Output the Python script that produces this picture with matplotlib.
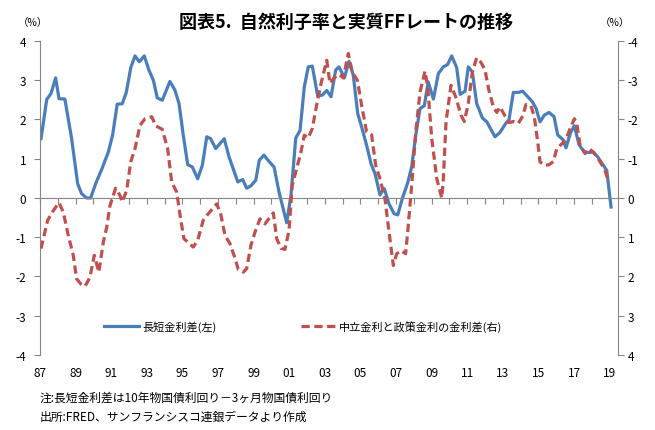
import matplotlib
matplotlib.use('Agg')
import matplotlib.pyplot as plt

plt.rcParams['font.family'] = ['Noto Sans CJK JP', 'DejaVu Sans']

# 長短金利差 (左軸)
blue_year = [1987.06, 1987.38, 1987.62, 1987.88, 1988.07, 1988.40, 1988.78, 1989.12, 1989.34, 1989.62,
             1989.85, 1990.15, 1990.47, 1990.84, 1991.08, 1991.34, 1991.62, 1991.85, 1992.10, 1992.34,
             1992.58, 1992.86, 1993.12, 1993.37, 1993.59, 1993.87, 1994.30, 1994.58, 1994.81, 1995.05,
             1995.30, 1995.56, 1995.86, 1996.12, 1996.37, 1996.59, 1996.87, 1997.35, 1997.62, 1997.92,
             1998.11, 1998.39, 1998.61, 1998.85, 1999.12, 1999.32, 1999.58, 1999.87, 2000.15, 2000.43,
             2000.86, 2001.10, 2001.37, 2001.61, 2001.85, 2002.07, 2002.30, 2002.60, 2002.86, 2003.11,
             2003.35, 2003.61, 2003.80, 2004.10, 2004.36, 2004.60, 2004.85, 2005.07, 2005.35, 2005.60,
             2005.82, 2006.10, 2006.34, 2006.61, 2006.89, 2007.10, 2007.35, 2007.66, 2007.88, 2008.11,
             2008.35, 2008.59, 2008.81, 2009.10, 2009.38, 2009.66, 2009.90, 2010.13, 2010.41, 2010.60,
             2010.88, 2011.06, 2011.29, 2011.53, 2011.85, 2012.10, 2012.56, 2012.84, 2013.12, 2013.35,
             2013.59, 2013.87, 2014.12, 2014.40, 2014.66, 2014.87, 2015.09, 2015.33, 2015.60, 2015.88,
             2016.08, 2016.37, 2016.55, 2016.81, 2017.02, 2017.28, 2017.58, 2017.84, 2018.08, 2018.33,
             2018.59, 2018.84, 2019.08]
blue_val = [1.51, 2.51, 2.66, 3.06, 2.53, 2.52, 1.51, 0.36, 0.11, 0.00,
            0.00, 0.39, 0.73, 1.17, 1.60, 2.39, 2.40, 2.69, 3.32, 3.62,
            3.47, 3.62, 3.26, 3.00, 2.55, 2.49, 2.97, 2.75, 2.41, 1.60,
            0.85, 0.79, 0.49, 0.83, 1.56, 1.51, 1.26, 1.51, 1.05, 0.66,
            0.41, 0.47, 0.25, 0.31, 0.45, 0.96, 1.09, 0.93, 0.79, 0.15,
            -0.63, 0.07, 1.53, 1.72, 2.83, 3.34, 3.36, 2.60, 2.62, 2.74,
            2.58, 3.26, 3.34, 3.06, 3.48, 3.13, 2.15, 1.81, 1.34, 0.87,
            0.62, 0.08, 0.24, -0.15, -0.40, -0.43, -0.02, 0.39, 0.79, 1.60,
            2.28, 2.35, 2.96, 2.52, 3.17, 3.34, 3.40, 3.62, 3.32, 2.64,
            2.72, 3.34, 3.21, 2.41, 2.04, 1.94, 1.56, 1.67, 1.87, 2.00,
            2.69, 2.69, 2.72, 2.58, 2.45, 2.28, 1.94, 2.11, 2.18, 2.07,
            1.61, 1.49, 1.28, 1.67, 1.84, 1.36, 1.17, 1.16, 1.17, 1.05,
            0.87, 0.70, -0.23]

# 中立金利と政策金利の金利差 (右軸, 反転)
red_year = [1987.06, 1987.43, 1987.75, 1988.07, 1988.31, 1988.59, 1988.87, 1989.06, 1989.30, 1989.53,
            1989.81, 1990.05, 1990.31, 1990.56, 1990.75, 1990.93, 1991.25, 1991.49, 1991.62, 1991.87,
            1992.10, 1992.34, 1992.62, 1992.90, 1993.28, 1993.50, 1993.87, 1994.17, 1994.40, 1994.68,
            1994.90, 1995.09, 1995.30, 1995.61, 1995.86, 1996.17, 1996.46, 1996.93, 1997.15, 1997.39,
            1997.67, 1997.96, 1998.14, 1998.42, 1998.61, 1998.85, 1999.08, 1999.36, 1999.64, 1999.92,
            2000.11, 2000.30, 2000.54, 2000.76, 2000.99, 2001.17, 2001.42, 2001.66, 2001.85, 2002.07,
            2002.30, 2002.54, 2002.79, 2003.11, 2003.29, 2003.53, 2003.80, 2004.04, 2004.32, 2004.54,
            2004.83, 2005.07, 2005.35, 2005.63, 2005.86, 2006.10, 2006.38, 2006.61, 2006.85, 2007.04,
            2007.28, 2007.54, 2007.69, 2007.88, 2008.11, 2008.35, 2008.63, 2008.78, 2009.01, 2009.29,
            2009.57, 2009.66, 2009.81, 2010.09, 2010.35, 2010.65, 2010.84, 2011.06, 2011.29, 2011.53,
            2011.78, 2012.00, 2012.22, 2012.47, 2012.66, 2012.84, 2013.12, 2013.35, 2013.59, 2013.87,
            2014.12, 2014.30, 2014.58, 2014.77, 2014.96, 2015.09, 2015.37, 2015.61, 2015.84, 2016.03,
            2016.27, 2016.53, 2016.78, 2017.02, 2017.15, 2017.34, 2017.62, 2017.84, 2018.08, 2018.33,
            2018.56, 2018.74, 2018.89]
red_val = [1.29, 0.57, 0.32, 0.12, 0.36, 0.95, 1.46, 2.06, 2.19, 2.25,
           2.02, 1.46, 1.89, 1.12, 0.75, 0.20, -0.25, -0.07, 0.10, -0.19,
           -0.92, -1.26, -1.85, -2.02, -2.07, -1.84, -1.75, -1.26, -0.41, -0.15,
           0.53, 1.04, 1.12, 1.25, 1.08, 0.57, 0.40, 0.15, 0.40, 0.95,
           1.16, 1.54, 1.82, 1.89, 1.80, 1.21, 0.87, 0.53, 0.66, 0.49,
           0.38, 1.04, 1.28, 1.31, 0.83, -0.32, -0.75, -1.17, -1.60, -1.53,
           -1.77, -2.36, -2.92, -3.51, -2.92, -3.06, -3.15, -3.06, -3.68, -3.21,
           -3.00, -2.36, -1.68, -1.61, -0.83, -0.49, 0.02, 0.87, 1.72, 1.42,
           1.34, 1.42, 0.70, -0.32, -1.68, -2.70, -3.23, -2.83, -1.51, -0.49,
           0.00, -0.49, -1.94, -2.87, -2.58, -2.11, -1.95, -2.41, -3.21, -3.57,
           -3.45, -3.26, -2.74, -2.32, -2.18, -2.32, -2.09, -1.92, -1.95, -1.90,
           -2.09, -2.38, -2.35, -2.07, -1.43, -0.92, -0.83, -0.85, -0.93, -1.26,
           -1.36, -1.47, -1.77, -2.02, -1.90, -1.34, -1.13, -1.26, -1.17, -1.02,
           -0.85, -0.70, -0.49]

year_ticks = list(range(1987, 2020))
label_years = list(range(1987, 2020, 2))
label_text = ['%02d' % (y % 100) for y in label_years]
y_ticks = [-4, -3, -2, -1, 0, 1, 2, 3, 4]

blue = '#4A7EBB'
red = '#C0504D'
grey = '#868686'

fig = plt.figure(figsize=(6.55, 4.31), dpi=100)
ax = fig.add_axes([0.061, 0.174, 0.8825, 0.7286])
ax2 = ax.twinx()

l1, = ax.plot(blue_year, blue_val, color=blue, lw=2.3, solid_joinstyle='round',
              label='長短金利差(左)')
l2, = ax2.plot(red_year, red_val, color=red, lw=2.3, dashes=(2.6, 1.4),
               label='中立金利と政策金利の金利差(右)')

ax.set_xlim(1987, 2019.47)
ax.set_ylim(-4, 4)
ax2.set_ylim(4, -4)

ax.set_yticks(y_ticks)
ax.set_yticklabels([str(v) for v in y_ticks])
ax2.set_yticks(y_ticks)
ax2.set_yticklabels([str(v) for v in y_ticks])

# 横軸は0の位置
ax.spines['bottom'].set_position(('data', 0))
ax.spines['top'].set_visible(False)
ax.spines['right'].set_visible(False)
ax.spines['left'].set_color(grey)
ax.spines['bottom'].set_color(grey)
for s in ['top', 'left', 'bottom']:
    ax2.spines[s].set_visible(False)
ax2.spines['right'].set_color(grey)

ax.set_xticks(year_ticks)
ax.tick_params(axis='x', direction='out', length=4, color=grey, labelbottom=False)
ax.tick_params(axis='y', direction='out', length=4, color=grey, labelsize=8.5, pad=6)
ax2.tick_params(axis='y', direction='out', length=4, color=grey, labelsize=8.5, pad=3)

sec = ax.secondary_xaxis(0)
sec.set_xticks(label_years)
sec.set_xticklabels(label_text)
sec.tick_params(length=0, labelsize=8.5, pad=8)
sec.spines['bottom'].set_visible(False)

ax.set_zorder(ax2.get_zorder() - 1)
ax.patch.set_visible(False)

ax2.legend(handles=[l1, l2], loc='center', bbox_to_anchor=(0.455, 0.092), ncol=2,
           frameon=False, fontsize=8, handlelength=3.2, handletextpad=0.25,
           columnspacing=7.6)

fig.text(0.5275, 0.949, '図表5.  自然利子率と実質FFレートの推移', ha='center', va='center',
         fontsize=13, fontweight='bold')
fig.text(0.050, 0.947, '（%）', ha='center', va='center', fontsize=7.5)
fig.text(0.939, 0.947, '（%）', ha='center', va='center', fontsize=7.5)
fig.text(0.061, 0.0766, '注:長短金利差は10年物国債利回り－3ヶ月物国債利回り', ha='left', va='center', fontsize=8.5)
fig.text(0.061, 0.0325, '出所:FRED、サンフランシスコ連銀データより作成', ha='left', va='center', fontsize=8.5)

fig.savefig('out.png', dpi=100)
